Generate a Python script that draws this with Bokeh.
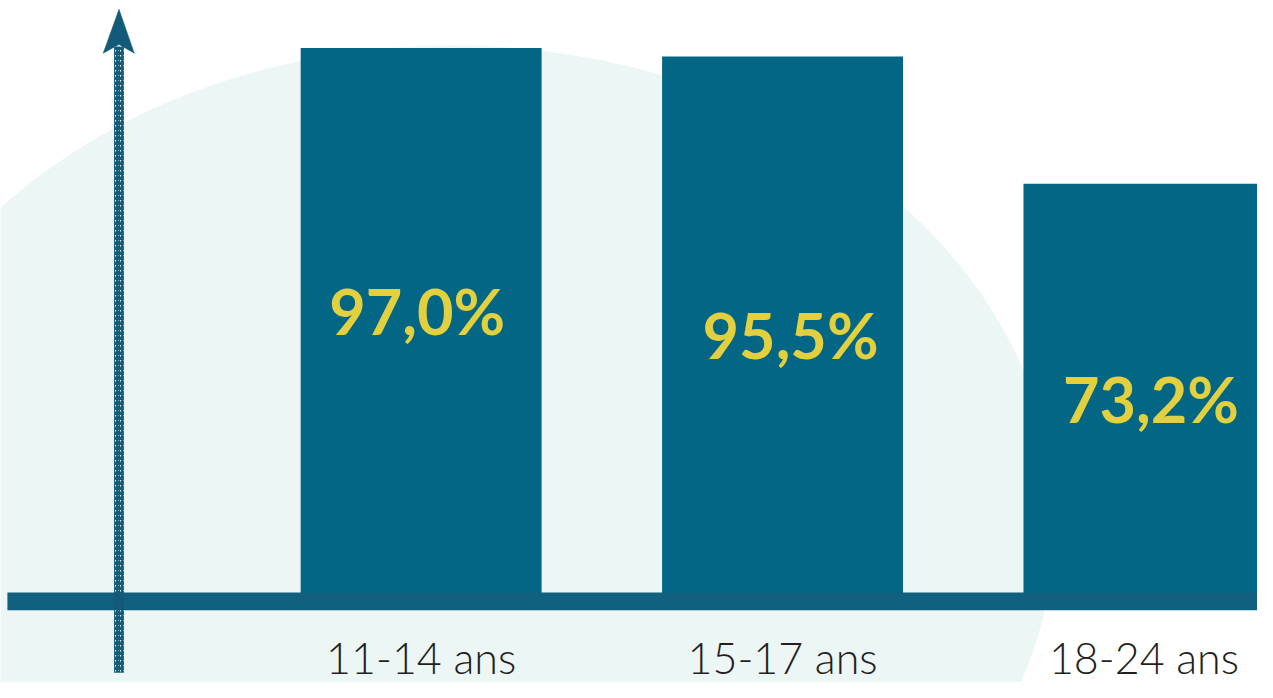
from bokeh.plotting import figure
from bokeh.models import Range1d, ColumnDataSource
from bokeh.core.properties import value
from bokeh.embed import file_html
from bokeh.resources import INLINE

# ---- data ----
categories = ["11-14 ans", "15-17 ans", "18-24 ans"]
values = [97.0, 95.5, 73.2]
value_labels = [f"{v:.1f}".replace(".", ",") + "%" for v in values]

# ---- styles ----
BAR = "#036684"
BASE = "#116080"
ARROW = "#135A78"
BG = "#ECF6F5"
YELLOW = "#E3D03F"
TXT = "#231F20"
label_dx = [-4, 8, 7]        # px offsets of value labels
label_dy = [-14, 6, 6]

W, H = 1257, 682
REF_W, REF_H = 1273, 698
PX_PER_CAT = 366.0
X0 = 243.0            # reference pixel of x=0
PX_PER_PCT = 5.84
Y0 = 615.0            # reference pixel of y=0


def fx(px):
    return (px - X0) / PX_PER_CAT


def fy(py):
    return (Y0 - py) / PX_PER_PCT


p = figure(width=W, height=H, output_backend="svg", toolbar_location=None,
           x_range=Range1d(fx(0), fx(REF_W)), y_range=Range1d(fy(REF_H), fy(0)),
           x_axis_location=None, y_axis_location=None, min_border=0,
           background_fill_color="white", border_fill_color="white")
p.grid.visible = False
p.outline_line_color = None

# background ellipse
p.ellipse(x=[fx(458)], y=[fy(535)], width=[1220 / PX_PER_CAT], height=[978 / PX_PER_PCT],
          fill_color=BG, line_color=None)

xc = [i + 0.5 for i in range(len(categories))]
src = ColumnDataSource(dict(x=xc, top=values, cat=categories, lab=value_labels,
                            ly=[v / 2 for v in values], dx=label_dx, dy=label_dy))

p.vbar(x="x", top="top", bottom=0, width=244 / PX_PER_CAT, source=src,
       fill_color=BAR, line_color=None)

# baseline
p.quad(left=[fx(7)], right=[fx(1300)], bottom=[fy(624)], top=[fy(606)],
       fill_color=BASE, line_color=None)

# hatched axis arrow
p.quad(left=[fx(115)], right=[fx(125)], bottom=[fy(688)], top=[fy(47)],
       fill_alpha=0, line_color=None, hatch_pattern="/", hatch_color=ARROW,
       hatch_scale=5, hatch_weight=2.2)
p.patch(x=[fx(120), fx(135.5), fx(120), fx(104)], y=[fy(9), fy(54), fy(45), fy(54)],
        fill_color=ARROW, line_color=ARROW, line_width=0.5)

# value labels
p.text(x="x", y="ly", text="lab", source=src, x_offset="dx", y_offset="dy",
       text_align="center", text_baseline="alphabetic",
       text_font=value("Lato"), text_font_style="bold", text_font_size="63px",
       text_color=YELLOW)

# category labels
p.text(x="x", y=fy(690), text="cat", source=src, y_offset=-17,
       text_align="center", text_baseline="alphabetic",
       text_font=value("Lato Light"), text_font_size="43px", text_color=TXT)

open("out.html", "w").write(file_html(p, INLINE))
